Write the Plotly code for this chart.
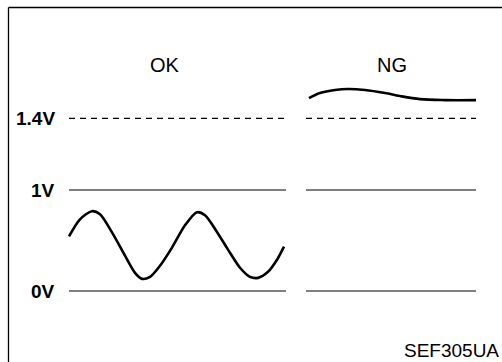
import plotly.graph_objects as go

# schematic waveform levels (drawn positions of the 0V / 1V / 1.4V references)
level_names = ["0V", "1V", "1.4V"]
level_pos = [0.0, 1.0, 1.71]

# OK trace: oscillates between the 0V and 1V lines
ok_t = [69, 80, 92, 100, 112, 125, 135, 142, 150, 160, 172, 185, 197, 205, 216, 228, 240, 250, 258, 268, 277, 284]
ok_v = [0.54, 0.71, 0.79, 0.76, 0.58, 0.35, 0.18, 0.12, 0.14, 0.25, 0.43, 0.65, 0.78, 0.75, 0.60, 0.41, 0.23, 0.14, 0.13, 0.19, 0.31, 0.44]

# NG trace: stuck above 1.4V
ng_t = [309, 320, 335, 348, 365, 385, 400, 420, 445, 476]
ng_v = [1.91, 1.96, 1.99, 2.00, 1.99, 1.96, 1.93, 1.90, 1.89, 1.89]

panels = {"OK": (69, 286), "NG": (306, 476)}
label_x = {"OK": 165, "NG": 392}

fig = go.Figure()

for name, (t0, t1) in panels.items():
    for lvl, pos in zip(level_names, level_pos):
        fig.add_trace(go.Scatter(
            x=[t0, t1], y=[pos, pos], mode="lines",
            line=dict(color="black", width=1.2, dash="6px,5px" if lvl == "1.4V" else "solid"),
            hoverinfo="skip",
        ))

fig.add_trace(go.Scatter(x=ok_t, y=ok_v, mode="lines",
                         line=dict(color="black", width=2.6, shape="spline", smoothing=0.8)))
fig.add_trace(go.Scatter(x=ng_t, y=ng_v, mode="lines",
                         line=dict(color="black", width=2.6, shape="spline", smoothing=1.0)))

sans = "Arial, Liberation Sans, sans-serif"
for lvl, pos in zip(level_names, level_pos):
    fig.add_annotation(x=57, y=pos, text=lvl, showarrow=False,
                       xanchor="right", yanchor="middle",
                       font=dict(family=sans, size=19, color="black", weight="bold"))
for name in panels:
    fig.add_annotation(x=label_x[name], y=(291 - 65) / 101, text=name, showarrow=False,
                       font=dict(family=sans, size=20, color="black"))
fig.add_annotation(x=501, y=(291 - 350) / 101, text="SEF305UA", showarrow=False,
                   xanchor="right", yanchor="middle",
                   font=dict(family=sans, size=19, color="black"))

# frame: only the top and left edges are visible
fig.add_shape(type="line", xref="paper", yref="paper", x0=8.5 / 502, x1=1.02,
              y0=1 - 7.5 / 362, y1=1 - 7.5 / 362, line=dict(color="black", width=1.3))
fig.add_shape(type="line", xref="paper", yref="paper", x0=8.5 / 502, x1=8.5 / 502,
              y0=1 - 7.5 / 362, y1=-0.02, line=dict(color="black", width=1.3))

fig.update_layout(
    width=502, height=362,
    margin=dict(l=0, r=0, t=0, b=0),
    showlegend=False,
    plot_bgcolor="white", paper_bgcolor="white",
    xaxis=dict(range=[0, 502], visible=False, fixedrange=True),
    yaxis=dict(range=[-71 / 101, 291 / 101], visible=False, fixedrange=True),
)

fig.write_html("out.html", config={"displayModeBar": False},
               post_script="document.body.style.margin='0';")
